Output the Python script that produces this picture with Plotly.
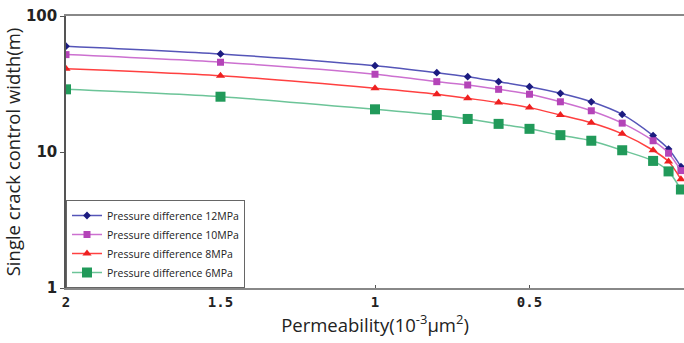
import plotly.graph_objects as go

permeability = [2, 1.5, 1, 0.8, 0.7, 0.6, 0.5, 0.4, 0.3, 0.2, 0.1, 0.05, 0.01]
width_12mpa = [60, 52.6, 43.1, 38.3, 35.8, 32.9, 30.2, 27.0, 23.4, 18.9, 13.2, 10.5, 7.8]
width_10mpa = [52, 45.7, 37.3, 32.9, 31.1, 28.9, 26.6, 23.4, 20.1, 16.3, 12.1, 9.8, 7.3]
width_8mpa = [41, 36.4, 29.4, 26.6, 24.8, 23.1, 21.2, 18.7, 16.4, 13.6, 10.3, 8.5, 6.3]
width_6mpa = [28.9, 25.5, 20.6, 18.7, 17.5, 16.1, 14.8, 13.3, 12.1, 10.3, 8.6, 7.2, 5.3]

series = [
    ("Pressure difference 12MPa", width_12mpa, "#5555b8", "#1c1c80", "diamond", 6),
    ("Pressure difference 10MPa", width_10mpa, "#cc70d0", "#b444b8", "square", 7),
    ("Pressure difference 8MPa", width_8mpa, "#ff4040", "#ee2020", "triangle-up", 8),
    ("Pressure difference 6MPa", width_6mpa, "#6cc498", "#219a5a", "square", 10),
]

fig = go.Figure()
for name, ys, lc, mc, sym, sz in series:
    fig.add_trace(go.Scatter(
        x=permeability, y=ys, name=name, mode="lines+markers",
        line=dict(color=lc, width=1.5, shape="spline", smoothing=0.8),
        marker=dict(color=mc, symbol=sym, size=sz),
    ))

fig.update_layout(
    width=684, height=343,
    margin=dict(l=66, r=0, t=16, b=55),
    paper_bgcolor="white", plot_bgcolor="white",
    font=dict(family="DejaVu Sans", color="#222"),
    showlegend=True,
    legend=dict(
        x=0.0, y=0.0, xanchor="left", yanchor="bottom",
        bgcolor="white", bordercolor="#666", borderwidth=1,
        font=dict(size=10.5, family="Open Sans", color="#222"),
        tracegroupgap=0, itemwidth=30,
    ),
    xaxis=dict(
        range=[2, 0], tickvals=[2, 1.5, 1, 0.5, 0], ticktext=["2", "1.5", "1", "0.5", "0"],
        showgrid=False, zeroline=False, showline=True, linecolor="#888", linewidth=2,
        mirror=True, ticks="inside", ticklen=3, tickcolor="#555",
        tickfont=dict(size=14, family="DejaVu Sans Mono", color="#222", weight="bold"),
        title=dict(text="Permeability(10<sup>-3</sup>μm<sup>2</sup>)", font=dict(size=18.5, family="Open Sans", color="#222"), standoff=8),
        automargin=False,
    ),
    yaxis=dict(
        type="log", range=[0, 2], tickvals=[1, 10, 100], ticktext=["1", "10", "100"],
        showgrid=False, zeroline=False, showline=True, linecolor="#555", linewidth=1.5,
        ticks="outside", ticklen=4, tickcolor="#555",
        tickfont=dict(size=15, family="DejaVu Sans", color="#222", weight="bold"),
        title=dict(text="Single crack control width(m)", font=dict(size=18.5, family="Open Sans", color="#222"), standoff=6),
        automargin=False,
    ),
)

fig.write_html("out.html", config={"displayModeBar": False},
               post_script="document.body.style.margin='0px';")
